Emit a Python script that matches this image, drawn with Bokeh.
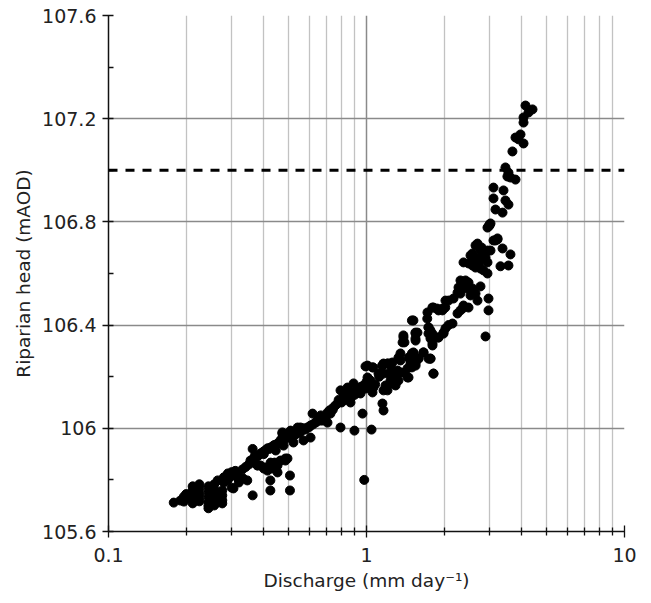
from bokeh.plotting import figure
from bokeh.models import FixedTicker, Span, Range1d
from bokeh.embed import file_html
from bokeh.resources import INLINE

# Discharge (mm/day) and riparian head (mAOD)
discharge = [
    0.179, 0.19, 0.196, 0.196, 0.2, 0.2,
    0.212, 0.212, 0.212, 0.212, 0.212,
    0.225, 0.225, 0.225, 0.225, 0.225,
    0.244, 0.244, 0.244, 0.244, 0.244, 0.244,
    0.257, 0.257, 0.257, 0.257, 0.257, 0.257,
    0.265, 0.276, 0.276, 0.276, 0.276, 0.276,
    0.28, 0.28, 0.29, 0.29, 0.3, 0.3, 0.3, 0.31, 0.31,
    0.305, 0.29, 0.316, 0.333, 0.345, 0.32, 0.305, 0.32, 0.33, 0.34,
    0.362, 0.365, 0.378, 0.381, 0.395, 0.405, 0.416, 0.436, 0.456, 0.472,
    0.494, 0.517, 0.541, 0.472, 0.362, 0.424, 0.424, 0.452, 0.485, 0.452,
    0.505, 0.505, 0.388, 0.4, 0.413, 0.43, 0.44, 0.464, 0.494, 0.35, 0.355,
    # middle band
    0.745, 0.779, 0.815, 0.867, 0.706, 0.725, 0.694, 0.652, 0.675, 0.634,
    0.607, 0.59, 0.57, 0.555, 0.541, 0.521, 0.508, 0.494, 0.477, 0.464,
    0.452, 0.436, 0.425, 0.413, 0.399, 0.388, 0.378, 0.365,
    0.76, 0.80, 0.84, 0.72, 0.68, 0.66, 0.62, 0.58, 0.56, 0.53, 0.50, 0.48,
    0.46, 0.44, 0.42, 0.40, 0.37, 0.74, 0.70, 0.64, 0.60, 0.55, 0.51,
    0.706, 0.57, 0.607, 0.521, 0.477, 0.445, 0.485, 0.425, 0.378, 0.436, 0.405,
    0.472, 0.508, 0.555, 0.665, 0.844,
    0.618, 0.793, 0.898, 1.046, 0.965, 1.153, 1.164, 0.98,
    # around 1
    1.009, 1.036, 1.018, 1.064, 0.991, 1.055, 1.185, 1.206, 0.891, 0.923,
    0.883, 0.948, 0.793, 0.815, 0.844, 0.852, 0.867, 0.90, 0.93, 0.96, 0.97,
    0.99, 1.0, 0.87, 0.82, 0.78, 0.95, 1.02, 1.08, 1.12,
    0.991, 1.055, 1.164, 1.239, 1.113, 1.164, 1.319, 1.391, 1.273, 1.442,
    1.239, 1.296, 1.33, 1.01, 1.06, 1.15, 1.21, 1.26,
    1.206, 1.153, 1.239, 1.548, 1.59, 1.5, 1.442, 1.354, 1.273, 1.218,
    1.739, 1.818, 1.273, 1.239, 1.185, 1.296, 1.164, 1.455,
    # 1.3 - 2
    1.391, 1.403, 1.548, 1.739, 1.77, 1.802, 1.901, 1.988,
    1.354, 1.455, 1.52, 1.663, 1.354, 1.481, 1.548, 1.576, 1.77, 1.818,
    1.663, 1.52, 1.481, 1.33, 1.5, 1.48, 1.77, 1.59, 1.55,
    1.39, 1.38, 1.55, 1.55, 1.72, 1.74, 1.8, 1.5,
    1.52, 2.154, 2.079, 2.023, 1.988, 1.739, 1.77, 1.576, 1.548, 1.901, 1.802,
    2.893,
    1.818, 1.971, 1.723, 1.901, 1.8, 1.88, 1.97, 2.02,
    # 2 - 3
    2.377, 2.486, 2.355, 2.313, 2.253, 2.971,
    2.313, 2.42, 2.486, 2.377, 2.273, 2.355, 2.464, 2.576, 2.766, 2.253,
    2.313, 2.53, 2.646, 2.174, 2.079, 2.023, 2.693, 2.971,
    3.162, 3.22, 2.693, 2.646, 3.024, 2.944, 2.841, 2.766, 2.576, 2.53,
    2.766, 2.693, 2.598, 2.893, 2.944, 2.377, 2.486, 2.576, 2.646, 2.766,
    2.841, 2.944,
    3.106, 3.22, 2.79, 2.82, 2.72, 2.82, 3.367, 3.614, 3.306, 3.55,
    # upper
    2.998, 2.944, 3.024, 3.0, 2.97,
    3.162, 3.367, 3.106, 3.456, 3.55, 3.106, 3.396,
    3.456, 3.55, 3.517, 3.78, 3.614,
    3.678,
    3.953, 3.78, 3.883, 4.061,
    4.133, 4.4, 4.245, 4.061, 4.061,
]
head = [
    105.712, 105.72, 105.735, 105.716, 105.745, 105.728,
    105.775, 105.759, 105.744, 105.724, 105.709,
    105.783, 105.767, 105.748, 105.732, 105.717,
    105.775, 105.755, 105.736, 105.717, 105.701, 105.69,
    105.783, 105.763, 105.748, 105.732, 105.717, 105.701,
    105.798, 105.798, 105.759, 105.74, 105.721, 105.709,
    105.81, 105.79, 105.825, 105.8, 105.83, 105.815, 105.77, 105.835, 105.82,
    105.829, 105.805, 105.817, 105.805, 105.798, 105.79, 105.767, 105.8, 105.84, 105.85,
    105.92, 105.867, 105.856, 105.895, 105.906, 105.914, 105.922, 105.926, 105.941, 105.964,
    105.98, 105.984, 106.003, 105.98, 105.74, 105.798, 105.759, 105.829, 105.875, 105.856,
    105.817, 105.759, 105.856, 105.844, 105.836, 105.844, 105.867, 105.875, 105.883, 105.86, 105.875,
    # middle band
    106.081, 106.1, 106.108, 106.116, 106.061, 106.057, 106.042, 106.038, 106.03, 106.022,
    106.011, 106.003, 106.0, 105.991, 105.984, 105.98, 105.972, 105.968, 105.964, 105.953,
    105.941, 105.933, 105.926, 105.922, 105.91, 105.902, 105.891, 105.883,
    106.09, 106.1, 106.12, 106.07, 106.045, 106.03, 106.015, 105.995, 105.99, 105.975, 105.965, 105.955,
    105.945, 105.935, 105.92, 105.9, 105.895, 106.072, 106.05, 106.025, 106.005, 105.982, 105.968,
    106.022, 105.953, 105.964, 105.945, 105.933, 105.914, 105.883, 105.867, 105.856, 105.848, 105.848,
    105.984, 105.991, 106.003, 106.05, 106.158,
    106.057, 106.003, 105.991, 105.995, 106.057, 106.096, 106.069, 105.8,
    # around 1
    106.197, 106.185, 106.174, 106.158, 106.154, 106.139, 106.154, 106.147, 106.174, 106.154,
    106.139, 106.135, 106.147, 106.135, 106.127, 106.116, 106.1, 106.13, 106.145, 106.15, 106.165,
    106.17, 106.18, 106.12, 106.12, 106.11, 106.16, 106.19, 106.17, 106.2,
    106.24, 106.236, 106.251, 106.251, 106.212, 106.212, 106.224, 106.216, 106.197, 106.197,
    106.185, 106.178, 106.185, 106.243, 106.236, 106.243, 106.251, 106.255,
    106.251, 106.243, 106.243, 106.251, 106.27, 106.236, 106.232, 106.216, 106.216, 106.212,
    106.27, 106.212, 106.185, 106.174, 106.166, 106.166, 106.147, 106.197,
    # 1.3 - 2
    106.352, 106.333, 106.371, 106.367, 106.348, 106.321, 106.352, 106.367,
    106.29, 106.274, 106.294, 106.294, 106.263, 106.251, 106.255, 106.27, 106.27, 106.212,
    106.294, 106.29, 106.274, 106.274, 106.29, 106.263, 106.27, 106.27, 106.243,
    106.36, 106.333, 106.367, 106.34, 106.425, 106.391, 106.367, 106.418,
    106.418, 106.406, 106.4, 106.387, 106.371, 106.391, 106.379, 106.371, 106.348, 106.352, 106.329,
    106.356,
    106.468, 106.464, 106.449, 106.457, 106.468, 106.464, 106.457, 106.468,
    # 2 - 3
    106.476, 106.468, 106.464, 106.457, 106.445, 106.457,
    106.573, 106.573, 106.565, 106.553, 106.546, 106.542, 106.542, 106.542, 106.55, 106.526,
    106.522, 106.515, 106.522, 106.503, 106.495, 106.495, 106.495, 106.503,
    106.728, 106.732, 106.716, 106.709, 106.689, 106.689, 106.681, 106.689, 106.678, 106.67,
    106.662, 106.658, 106.65, 106.662, 106.643, 106.643, 106.639, 106.631, 106.623, 106.619,
    106.612, 106.6,
    106.728, 106.736, 106.701, 106.689, 106.639, 106.658, 106.697, 106.674, 106.628, 106.631,
    # upper
    106.786, 106.778, 106.794, 106.79, 106.782,
    106.848, 106.836, 106.933, 106.883, 106.867, 106.891, 106.922,
    107.011, 106.991, 106.976, 106.964, 106.972,
    107.073,
    107.139, 107.127, 107.12, 107.104,
    107.251, 107.236, 107.224, 107.205, 107.185,
]

x_major = [0.1, 1, 10]
x_minor = [0.2, 0.3, 0.4, 0.5, 0.6, 0.7, 0.8, 0.9, 2, 3, 4, 5, 6, 7, 8, 9]
y_major = [105.6, 106.0, 106.4, 106.8, 107.2, 107.6]
y_minor = [105.8, 106.2, 106.6, 107.0, 107.4]
threshold = 107.0

FONT = "DejaVu Sans"
TXT = "#222222"

p = figure(width=651, height=603, x_axis_type="log",
           x_range=Range1d(0.1, 10), y_range=Range1d(105.6, 107.6),
           output_backend="svg", toolbar_location=None,
           min_border_left=108, min_border_right=27,
           min_border_top=15, min_border_bottom=72)
p.outline_line_color = None
p.background_fill_color = "white"
p.border_fill_color = "white"

p.xaxis.ticker = FixedTicker(ticks=x_major, minor_ticks=x_minor)
p.yaxis.ticker = FixedTicker(ticks=y_major, minor_ticks=y_minor)
p.xaxis.major_label_overrides = {0.1: "0.1", 1: "1", 10: "10"}
p.yaxis.major_label_overrides = {105.6: "105.6", 106.0: "106", 106.4: "106.4",
                                 106.8: "106.8", 107.2: "107.2", 107.6: "107.6"}

for ax in (p.xaxis[0], p.yaxis[0]):
    ax.axis_line_color = "#111111"
    ax.axis_line_width = 1.5
    ax.major_tick_line_color = "#111111"
    ax.minor_tick_line_color = "#111111"
    ax.major_tick_line_width = 1.3
    ax.minor_tick_line_width = 1.3
    ax.major_label_text_font = FONT
    ax.major_label_text_font_size = "19px"
    ax.major_label_text_color = TXT
    ax.axis_label_text_font = FONT
    ax.axis_label_text_font_size = "18.5px"
    ax.axis_label_text_color = TXT
    ax.axis_label_text_font_style = "normal"

p.xaxis.major_tick_in = 6
p.xaxis.major_tick_out = 6
p.xaxis.minor_tick_in = 4
p.xaxis.minor_tick_out = 4
p.yaxis.major_tick_in = 5
p.yaxis.major_tick_out = 6
p.yaxis.minor_tick_in = 5
p.yaxis.minor_tick_out = 0
p.xaxis.major_label_standoff = 10
p.yaxis.major_label_standoff = 6
p.xaxis.axis_label = "Discharge (mm day\u207b\u00b9)"
p.yaxis.axis_label = "Riparian head (mAOD)"
p.xaxis.axis_label_standoff = 5
p.yaxis.axis_label_standoff = 5

p.xgrid.ticker = FixedTicker(ticks=x_major, minor_ticks=x_minor)
p.xgrid.grid_line_color = "#8a8a8a"
p.xgrid.grid_line_width = 1.5
p.xgrid.minor_grid_line_color = "#c2c2c2"
p.xgrid.minor_grid_line_width = 1.3
p.ygrid.ticker = FixedTicker(ticks=y_major)
p.ygrid.grid_line_color = "#8a8a8a"
p.ygrid.grid_line_width = 1.5

p.add_layout(Span(location=threshold, dimension="width", line_color="black",
                  line_width=3, line_dash="9 8"))

p.scatter(discharge, head, size=9, color="black", line_color="black")

open("out.html", "w").write(file_html(p, INLINE))
